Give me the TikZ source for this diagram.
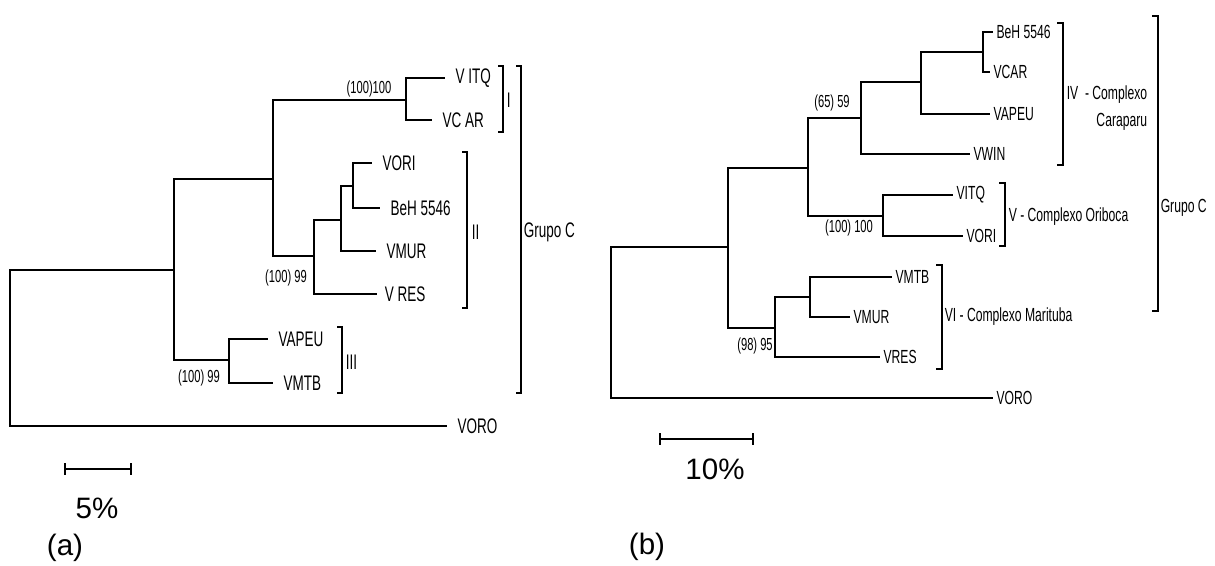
\documentclass[tikz,border=0pt]{standalone}
\usepackage{fontspec}
\setmainfont{Liberation Sans}
\newfontfamily\narrowfont[FakeStretch=0.64]{Liberation Sans}

\begin{document}
\begin{tikzpicture}[x=0.025cm, y=-0.025cm, line width=1.1pt,
  leafa/.style={anchor=west, inner xsep=7pt, inner ysep=1pt, font=\narrowfont\fontsize{15}{18}\selectfont},
  leafb/.style={anchor=west, inner xsep=2pt, inner ysep=1pt, font=\narrowfont\fontsize{13.5}{16}\selectfont},
  grpa/.style={anchor=west, inner sep=0pt, font=\narrowfont\fontsize{15}{18}\selectfont},
  grpb/.style={anchor=west, inner sep=0pt, font=\narrowfont\fontsize{13.5}{19}\selectfont},
  boot/.style={inner sep=0pt, font=\narrowfont\fontsize{12.4}{15}\selectfont},
  clade/.style={line width=1pt},
  big/.style={inner sep=0pt, font=\fontsize{21}{25}\selectfont}]
  \useasboundingbox (0,0) rectangle (1215,565);

  % (a) tree

  % inner nodes
  \coordinate (a0) at (10,348);
  \coordinate (a1) at (174,270);
  \coordinate (a2) at (273,179);
  \coordinate (a3) at (406,100);
  \coordinate (a4) at (314,256);
  \coordinate (a5) at (341,220);
  \coordinate (a6) at (353,186);
  \coordinate (a7) at (229,360);

  % leaves
  \node[leafa] (vitqA) at (445,78) {V ITQ};
  \node[leafa] (vcarA) at (432,120) {VC AR};
  \node[leafa] (voriA) at (372,163) {VORI};
  \node[leafa] (behA) at (380,208) {BeH 5546};
  \node[leafa] (vmurA) at (376,251) {VMUR};
  \node[leafa, inner xsep=5pt] (vresA) at (377,294) {V RES};
  \node[leafa] (vapeuA) at (268,339) {VAPEU};
  \node[leafa] (vmtbA) at (273,383) {VMTB};
  \node[leafa] (voroA) at (447,426) {VORO};

  % branches
  \draw (a0) |- (a1);
  \draw (a0) |- (voroA.west);
  \draw (a1) |- (a2);
  \draw (a1) |- (a7);
  \draw (a2) |- (a3);
  \draw (a2) |- (a4);
  \draw (a3) |- (vitqA.west);
  \draw (a3) |- (vcarA.west);
  \draw (a4) |- (a5);
  \draw (a4) |- (vresA.west);
  \draw (a5) |- (a6);
  \draw (a5) |- (vmurA.west);
  \draw (a6) |- (voriA.west);
  \draw (a6) |- (behA.west);
  \draw (a7) |- (vapeuA.west);
  \draw (a7) |- (vmtbA.west);

  % bootstrap values
  \node[boot] (bsA1) at (369,89) {(100)100};
  \node[boot] (bsA2) at (286,278) {(100) 99};
  \node[boot] (bsA3) at (199,378) {(100) 99};

  % groups
  \draw[clade] (498,66) -- (503,66) -- (503,132) -- (498,132);
  \node[grpa] (gI) at (506,100) {I};
  \draw[clade] (462,152) -- (467,152) -- (467,308) -- (462,308);
  \node[grpa] (gII) at (471,232) {II};
  \draw[clade] (337,327) -- (342,327) -- (342,393) -- (337,393);
  \node[grpa] (gIII) at (345,362) {III};
  \draw[clade] (516,66) -- (521,66) -- (521,393) -- (516,393);
  \node[grpa] (gCA) at (523,232) {Grupo C};

  % scale
  \coordinate (sA1) at (64,469);
  \coordinate (sA2) at (132,469);
  \draw[|-|] (sA1) -- (sA2);
  \node[big] (pctA) at (97,508) {5\%};
  \node[big] (capA) at (65,548) {(a)};

  % (b) tree

  % inner nodes
  \coordinate (b0) at (611,322);
  \coordinate (b1) at (728,247);
  \coordinate (b2) at (808,168);
  \coordinate (b3) at (861,118);
  \coordinate (b4) at (921,82);
  \coordinate (b5) at (983,52);
  \coordinate (b6) at (883,216);
  \coordinate (b7) at (775,328);
  \coordinate (b8) at (810,297);

  % leaves
  \node[leafb] (behB) at (993,32) {BeH 5546};
  \node[leafb] (vcarB) at (990,72) {VCAR};
  \node[leafb] (vapeuB) at (990,114) {VAPEU};
  \node[leafb] (vwinB) at (970,154) {VWIN};
  \node[leafb] (vitqB) at (953,195) {VITQ};
  \node[leafb] (voriB) at (963,236) {VORI};
  \node[leafb] (vmtbB) at (892,277) {VMTB};
  \node[leafb] (vmurB) at (850,317) {VMUR};
  \node[leafb] (vresB) at (880,357) {VRES};
  \node[leafb] (voroB) at (993,398) {VORO};

  % branches
  \draw (b0) |- (b1);
  \draw (b0) |- (voroB.west);
  \draw (b1) |- (b2);
  \draw (b1) |- (b7);
  \draw (b2) |- (b3);
  \draw (b2) |- (b6);
  \draw (b3) |- (b4);
  \draw (b3) |- (vwinB.west);
  \draw (b4) |- (b5);
  \draw (b4) |- (vapeuB.west);
  \draw (b5) |- (behB.west);
  \draw (b5) |- (vcarB.west);
  \draw (b6) |- (vitqB.west);
  \draw (b6) |- (voriB.west);
  \draw (b7) |- (b8);
  \draw (b7) |- (vresB.west);
  \draw (b8) |- (vmtbB.west);
  \draw (b8) |- (vmurB.west);

  % bootstrap values
  \node[boot] (bsB1) at (832,103) {(65) 59};
  \node[boot] (bsB2) at (849,228) {(100) 100};
  \node[boot] (bsB3) at (755,346) {(98) 95};

  % groups
  \draw[clade] (1057,23) -- (1063,23) -- (1063,165) -- (1057,165);
  \node[grpb, align=right] (gIV) at (1066,108) {IV\ \ - Complexo\\Caraparu};
  \draw[clade] (999,183) -- (1005,183) -- (1005,246) -- (999,246);
  \node[grpb] (gV) at (1008,217) {V - Complexo Oriboca};
  \draw[clade] (936,265) -- (942,265) -- (942,369) -- (936,369);
  \node[grpb] (gVI) at (944,317) {VI - Complexo Marituba};
  \draw[clade] (1152,16) -- (1158,16) -- (1158,311) -- (1152,311);
  \node[grpb] (gCB) at (1160,208) {Grupo C};

  % scale
  \coordinate (sB1) at (659,439);
  \coordinate (sB2) at (754,439);
  \draw[|-|] (sB1) -- (sB2);
  \node[big] (pctB) at (715,469) {10\%};
  \node[big] (capB) at (647,547) {(b)};
\end{tikzpicture}
\end{document}
